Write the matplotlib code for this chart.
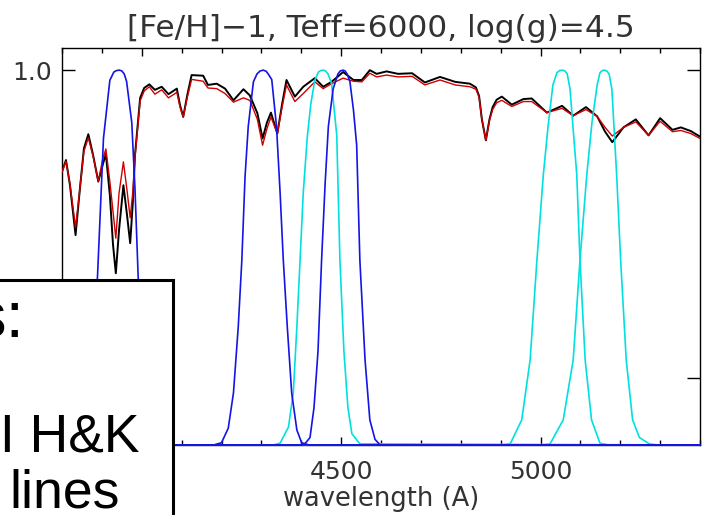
import numpy as np
import matplotlib
matplotlib.use('Agg')
import matplotlib.pyplot as plt
from matplotlib.patches import Rectangle
from matplotlib.ticker import MultipleLocator, FormatStrFormatter

# ------------------------------------------------------------
# 光谱 (black = model 1, red = model 2), 归一化通量
# ------------------------------------------------------------
wave = [3800, 3810, 3820, 3834, 3845, 3855, 3866, 3878, 3891, 3902, 3910,
        3920, 3928, 3935, 3943, 3954, 3963, 3971, 3978, 3983, 3996, 4006,
        4019, 4033, 4050, 4067, 4088, 4096, 4104, 4114, 4125, 4154, 4166,
        4188, 4209, 4230, 4255, 4271, 4290, 4303, 4314, 4324, 4340, 4352,
        4363, 4384, 4405, 4434, 4455, 4476, 4505, 4531, 4552, 4572, 4589,
        4614, 4643, 4678, 4710, 4748, 4786, 4823, 4838, 4846, 4853, 4863,
        4872, 4880, 4890, 4903, 4928, 4957, 4978, 5016, 5054, 5082, 5114,
        5142, 5162, 5180, 5208, 5239, 5271, 5300, 5331, 5352, 5377, 5400]
flux_black = [0.835, 0.854, 0.813, 0.732, 0.808, 0.873, 0.896, 0.862, 0.819,
              0.846, 0.864, 0.797, 0.716, 0.670, 0.740, 0.813, 0.765, 0.719,
              0.789, 0.862, 0.955, 0.971, 0.977, 0.968, 0.973, 0.961, 0.970,
              0.943, 0.924, 0.959, 0.992, 0.991, 0.976, 0.978, 0.970, 0.951,
              0.969, 0.959, 0.930, 0.889, 0.915, 0.931, 0.897, 0.945, 0.984,
              0.957, 0.973, 0.987, 0.973, 0.981, 0.997, 0.984, 0.984, 1.000,
              0.994, 0.998, 0.994, 0.995, 0.980, 0.989, 0.981, 0.978, 0.972,
              0.958, 0.920, 0.886, 0.920, 0.940, 0.952, 0.957, 0.944, 0.953,
              0.954, 0.931, 0.942, 0.926, 0.940, 0.925, 0.900, 0.883, 0.907,
              0.920, 0.894, 0.922, 0.903, 0.907, 0.901, 0.892]
flux_red = [0.835, 0.852, 0.815, 0.745, 0.808, 0.868, 0.890, 0.860, 0.819,
            0.855, 0.872, 0.819, 0.770, 0.727, 0.800, 0.851, 0.805, 0.760,
            0.805, 0.858, 0.950, 0.966, 0.973, 0.961, 0.968, 0.955, 0.964,
            0.940, 0.924, 0.955, 0.985, 0.982, 0.971, 0.970, 0.962, 0.948,
            0.955, 0.951, 0.920, 0.878, 0.905, 0.924, 0.897, 0.940, 0.976,
            0.949, 0.962, 0.981, 0.970, 0.978, 0.987, 0.982, 0.981, 0.995,
            0.989, 0.992, 0.989, 0.990, 0.976, 0.984, 0.976, 0.973, 0.969,
            0.956, 0.920, 0.886, 0.918, 0.936, 0.947, 0.951, 0.941, 0.949,
            0.949, 0.931, 0.938, 0.926, 0.936, 0.925, 0.907, 0.893, 0.907,
            0.916, 0.894, 0.917, 0.900, 0.902, 0.897, 0.889]

# ------------------------------------------------------------
# 滤光片透过率 (0..1)
# ------------------------------------------------------------
blue1_w = [3800, 3842, 3858, 3870, 3880, 3889, 3904, 3920, 3930, 3937, 3944,
           3950, 3956, 3962, 3975, 3983, 3991, 3998, 4008, 4021, 4041, 5400]
blue1_t = [0, 0, 0.045, 0.14, 0.315, 0.449, 0.818, 0.973, 0.995, 0.999, 1.0,
           0.998, 0.99, 0.97, 0.86, 0.685, 0.449, 0.3, 0.12, 0.03, 0, 0]

blue2_w = [3800, 4180, 4200, 4217, 4230, 4242, 4251, 4259, 4267, 4280, 4289,
           4297, 4305, 4312, 4317, 4326, 4338, 4347, 4355, 4365, 4376, 4389,
           4401, 4420, 5400]
blue2_t = [0, 0, 0.006, 0.045, 0.139, 0.315, 0.493, 0.715, 0.849, 0.969, 0.99,
           0.998, 1.0, 0.997, 0.99, 0.975, 0.849, 0.672, 0.493, 0.315, 0.139,
           0.04, 0.006, 0, 0]

blue3_w = [3800, 4400, 4409, 4422, 4432, 4442, 4451, 4460, 4468, 4480, 4492,
           4498, 4505, 4510, 4515, 4522, 4531, 4539, 4547, 4560, 4572, 4585,
           4598, 5400]
blue3_t = [0, 0, 0.003, 0.02, 0.1, 0.25, 0.493, 0.70, 0.85, 0.95, 0.99,
           0.998, 1.0, 0.998, 0.99, 0.97, 0.893, 0.80, 0.493, 0.227, 0.067,
           0.015, 0, 0]

cyan1_w = [3800, 4330, 4347, 4368, 4380, 4389, 4397, 4405, 4415, 4424, 4434,
           4443, 4449, 4455, 4461, 4467, 4476, 4489, 4497, 4507, 4517, 4527,
           4547, 5400]
cyan1_t = [0, 0, 0.005, 0.048, 0.139, 0.315, 0.493, 0.672, 0.82, 0.91, 0.973,
           0.995, 0.999, 1.0, 0.998, 0.99, 0.965, 0.827, 0.493, 0.25, 0.1, 0.03,
           0.003, 0]

cyan2_w = [3800, 4905, 4924, 4953, 4974, 4991, 5007, 5019, 5031, 5041, 5048,
           5055, 5061, 5067, 5074, 5091, 5099, 5112, 5128, 5149, 5170, 5400]
cyan2_t = [0, 0, 0.003, 0.067, 0.227, 0.493, 0.72, 0.85, 0.96, 0.993, 0.999,
           1.0, 0.998, 0.99, 0.95, 0.72, 0.493, 0.227, 0.067, 0.005, 0, 0]

cyan3_w = [3800, 5005, 5024, 5057, 5082, 5099, 5116, 5129, 5142, 5149, 5155,
           5160, 5166, 5172, 5179, 5191, 5201, 5215, 5231, 5248, 5273, 5295,
           5400]
cyan3_t = [0, 0, 0.003, 0.067, 0.227, 0.493, 0.72, 0.86, 0.96, 0.993, 0.999,
           1.0, 0.998, 0.99, 0.95, 0.72, 0.493, 0.227, 0.067, 0.02, 0.003, 0,
           0]

title = "[Fe/H]\u22121, Teff=6000, log(g)=4.5"
xlabel = "wavelength (A)"

# 坐标范围
XMIN, XMAX = 3800, 5400
YMIN, YMAX = 0.391, 1.036

TXT = '#333333'
W, H = 702, 515

fig = plt.figure(figsize=(W / 100, H / 100), dpi=100)
ax = fig.add_axes([62 / W, 1 - 445 / H, 638 / W, 397 / H])


def filt(t):
    # 透过率映射到图的纵轴 (0 -> 底边, 1 -> 1.0)
    return YMIN + np.asarray(t) * (1.0 - YMIN)


ax.plot(wave, flux_black, color='black', lw=1.4, zorder=3)
ax.plot(wave, flux_red, color='#d00000', lw=1.0, zorder=4)

for w, t in [(cyan1_w, cyan1_t), (cyan2_w, cyan2_t), (cyan3_w, cyan3_t)]:
    ax.plot(w, filt(t), color='#00e0e0', lw=1.2, zorder=5, clip_on=False)
for w, t in [(blue1_w, blue1_t), (blue2_w, blue2_t), (blue3_w, blue3_t)]:
    ax.plot(w, filt(t), color='#1414e6', lw=1.2, zorder=6, clip_on=False)

ax.set_xlim(XMIN, XMAX)
ax.set_ylim(YMIN, YMAX)

ax.xaxis.set_major_locator(MultipleLocator(500))
ax.xaxis.set_minor_locator(MultipleLocator(100))
ax.yaxis.set_major_locator(MultipleLocator(0.5))
ax.yaxis.set_major_formatter(FormatStrFormatter('%.1f'))

ax.tick_params(axis='x', which='major', direction='in', top=True, bottom=True,
               length=6, width=1, labelsize=18, labelcolor=TXT, pad=11)
ax.tick_params(axis='x', which='minor', direction='in', top=True, bottom=True,
               length=3.8, width=1)
ax.tick_params(axis='y', which='major', direction='in', left=True, right=True,
               length=9.5, width=1, labelsize=18, labelcolor=TXT, pad=7)
for s in ax.spines.values():
    s.set_linewidth(1)

ax.set_title(title, fontsize=22.5, color=TXT, pad=8)
ax.set_xlabel(xlabel, fontsize=18.5, color=TXT, labelpad=1)

# 左下角的注释框 (部分超出画布)
box = Rectangle((-20 / W, -20 / H), 193 / W, (515 - 280 + 20) / H,
                transform=fig.transFigure, facecolor='white',
                edgecolor='black', lw=2.2, zorder=10, clip_on=False)
fig.add_artist(box)

font = ['Liberation Sans', 'DejaVu Sans']
fig.text(24 / W, 1 - 338 / H, "s:", fontsize=47, family=font, ha='right',
         va='baseline', zorder=11)
fig.text(0 / W, 1 - 452 / H, "I H&K", fontsize=38.5, family=font, ha='left',
         va='baseline', zorder=11)
fig.text(9 / W, 1 - 508 / H, "lines", fontsize=38.5, family=font, ha='left',
         va='baseline', zorder=11)

fig.savefig('out.png', dpi=100)
